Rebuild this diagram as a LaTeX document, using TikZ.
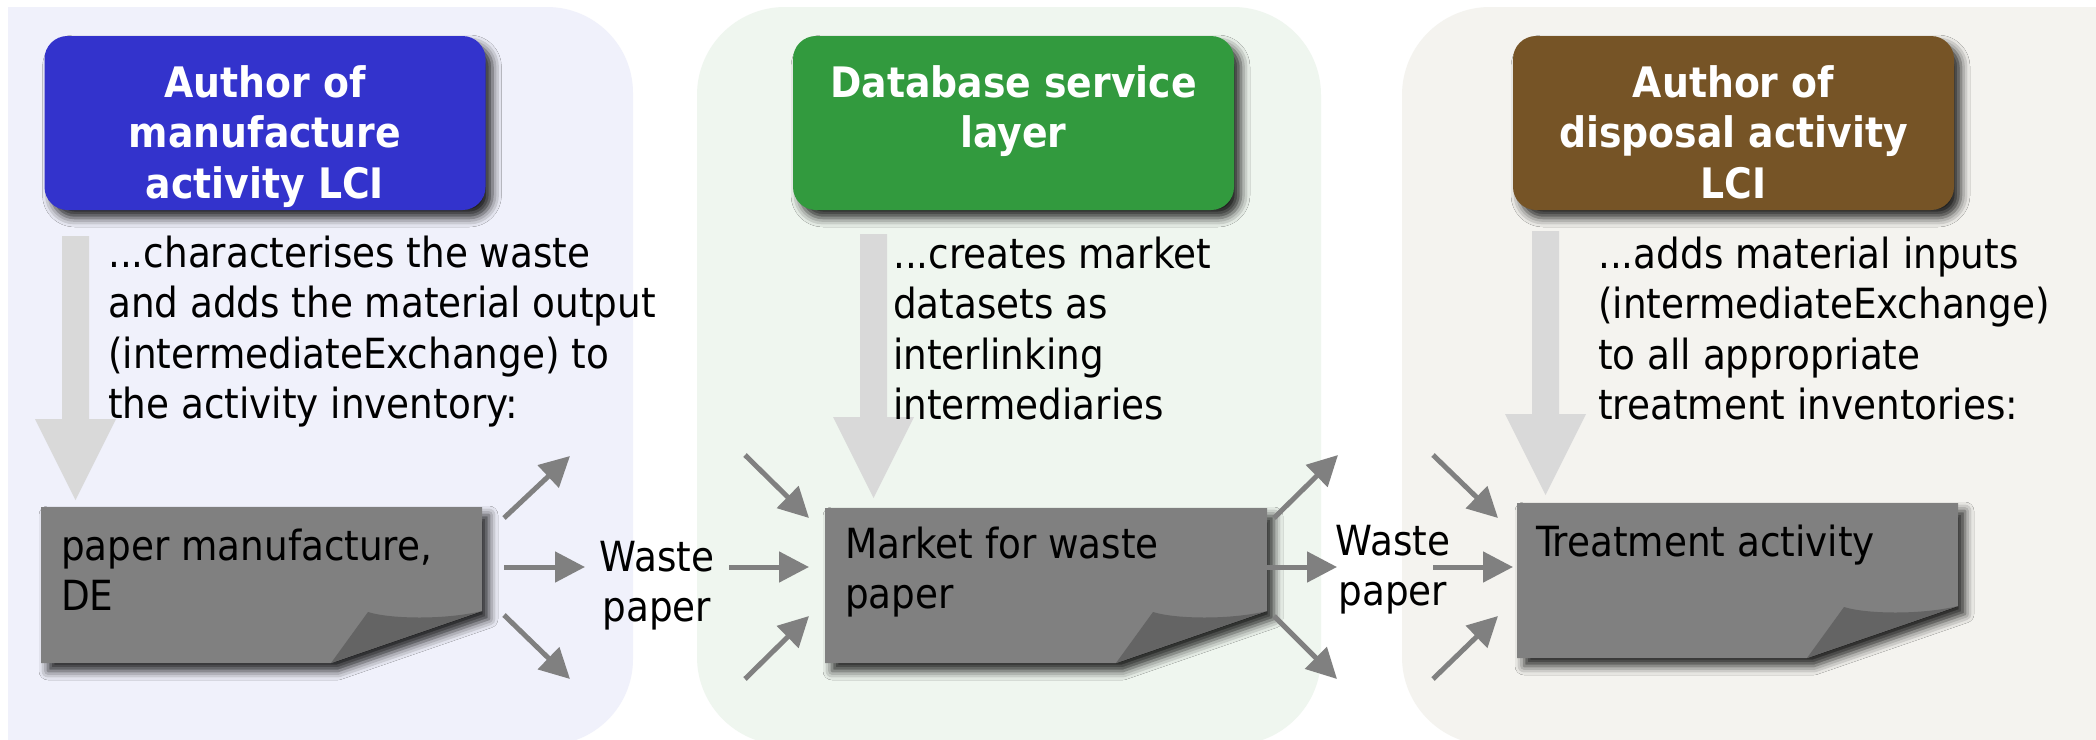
\documentclass[tikz,border=0pt]{standalone}
\usepackage{fontspec}
\setmainfont{DejaVu Sans Condensed}[BoldFont={DejaVu Sans Condensed Bold}]
\usetikzlibrary{arrows.meta,calc,shadows.blur}

\definecolor{bgA}{HTML}{F0F1FB}
\definecolor{bgB}{HTML}{EFF6EF}
\definecolor{bgC}{HTML}{F4F3EF}
\definecolor{hblue}{HTML}{3333CC}
\definecolor{hgreen}{HTML}{329A3E}
\definecolor{hbrown}{HTML}{765426}
\definecolor{docgray}{HTML}{808080}
\definecolor{foldgray}{HTML}{646464}
\definecolor{flowgray}{HTML}{808080}
\definecolor{biggray}{HTML}{D9D9D9}

% stacked lines whose baseline is the first line
\newcommand\lines[2][l]{\begin{tabular}[t]{@{}#1@{}}#2\end{tabular}}

% page with a curled lower right corner, drawn over a placeholder node
\newcommand\docpage[1]{%
  \fill[docgray, softshadow]
    (#1.north west) -- (#1.north east) -- ($(#1.south east)+(0,-52)$)
    -- ($(#1.south east)+(-151,0)$) -- (#1.south west) -- cycle;
  \fill[foldgray]
    ($(#1.south east)+(-151,0)$) -- ($(#1.south east)+(-114,-51)$)
    .. controls ($(#1.south east)+(-92,-44)$) and ($(#1.south east)+(-37,-43)$)
    .. ($(#1.south east)+(0,-52)$) -- cycle;}

% broad light arrow from a shaft start to a tip
\newcommand\bigarrow[2]{%
  \fill[biggray] ($(#1)+(-13.5,0)$) -- ($(#1)+(13.5,0)$) -- ($(#2)+(13.5,-81)$)
    -- ($(#2)+(40.5,-81)$) -- (#2) -- ($(#2)+(-40.5,-81)$)
    -- ($(#2)+(-13.5,-81)$) -- cycle;}

\begin{document}
\begin{tikzpicture}[x=1pt,y=-1pt,
  softshadow/.style={blur shadow={shadow xshift=7pt, shadow yshift=-8pt,
      shadow blur radius=9pt, shadow opacity=85}},
  hdr/.style={rounded corners=23pt, minimum width=441pt, minimum height=174pt,
      inner sep=0pt, outer sep=0pt, softshadow},
  hdrtext/.style={text=white, inner sep=0pt, anchor=base,
      font=\bfseries\fontsize{42}{50.7}\selectfont},
  body/.style={text=black, inner sep=0pt, anchor=base west,
      font=\fontsize{41.5}{50.5}\selectfont},
  label/.style={body, anchor=base},
  docnode/.style={inner sep=0pt, outer sep=0pt, anchor=north west},
  flow/.style={draw=flowgray, line width=5pt,
      -{Triangle[length=30pt,width=30pt]}},
]
\useasboundingbox (0,0) rectangle (2096,739);
\fill[white] (0,0) rectangle (2096,739);

% three role panels
\begin{scope}
  \clip (8,0) rectangle (2096,739);
  \fill[bgA, rounded corners=86pt] (-200,7) rectangle (633,745);
\end{scope}
\begin{scope}
  \clip (0,0) rectangle (2096,739);
  \fill[bgB, rounded corners=88pt] (697,7) rectangle (1321,745);
  \fill[bgC, rounded corners=88pt] (1402,7) rectangle (2300,745);
\end{scope}

% role headers
\node[hdr, fill=hblue]  (h1) at (265,123)    {};
\node[hdr, fill=hgreen] (h2) at (1013.5,123) {};
\node[hdr, fill=hbrown] (h3) at (1733.5,123) {};
\node[hdrtext] (h1t) at (265,97)    {\lines[c]{Author of\\manufacture\\activity LCI}};
\node[hdrtext] (h2t) at (1013.5,97) {\lines[c]{Database service\\layer}};
\node[hdrtext] (h3t) at (1733.5,97) {\lines[c]{Author of\\disposal activity\\LCI}};

% broad arrows from each role down to its dataset
\coordinate (g1s) at (75.5,236);   \coordinate (g1t) at (75.5,500);
\coordinate (g2s) at (873.5,234);  \coordinate (g2t) at (873.5,498);
\coordinate (g3s) at (1545.5,231); \coordinate (g3t) at (1545.5,495);
\bigarrow{g1s}{g1t}
\bigarrow{g2s}{g2t}
\bigarrow{g3s}{g3t}

% descriptions
\node[body] (b1) at (108,267)
  {\lines{...characterises the waste\\and adds the material output\\(intermediateExchange) to\\the activity inventory:}};
\node[body] (b2) at (893,268)
  {\lines{...creates market\\datasets as\\interlinking\\intermediaries}};
\node[body] (b3) at (1598,268)
  {\lines{...adds material inputs\\(intermediateExchange)\\to all appropriate\\treatment inventories:}};

% datasets
\node[docnode, minimum width=441pt, minimum height=156pt] (d1) at (41,507) {};
\node[docnode, minimum width=442pt, minimum height=155pt] (d2) at (825,508) {};
\node[docnode, minimum width=441pt, minimum height=155pt] (d3) at (1517,503) {};
\docpage{d1}
\docpage{d2}
\docpage{d3}
\node[body] (d1t) at (61,560)   {\lines{paper manufacture,\\DE}};
\node[body] (d2t) at (845,558)  {\lines{Market for waste\\paper}};
\node[body] (d3t) at (1536,556) {\lines{Treatment activity}};

% exchange labels
\node[label] (w1) at (657,571)  {\lines[c]{Waste\\paper}};
\node[label] (w2) at (1393,555) {\lines[c]{Waste\\paper}};

% flows out of the manufacture dataset
\coordinate (o1as) at (504,518); \coordinate (o1ae) at (570,456);
\coordinate (o1bs) at (504,567); \coordinate (o1be) at (585,567);
\coordinate (o1cs) at (504,615); \coordinate (o1ce) at (570,679);
% flows into the market
\coordinate (i2as) at (745,455); \coordinate (i2ae) at (809,518);
\coordinate (i2bs) at (729,567); \coordinate (i2be) at (809,567);
\coordinate (i2cs) at (745,679); \coordinate (i2ce) at (809,616);
% flows out of the market
\coordinate (o2as) at (1274,518); \coordinate (o2ae) at (1338,455);
\coordinate (o2bs) at (1267,567); \coordinate (o2be) at (1337,567);
\coordinate (o2cs) at (1274,616); \coordinate (o2ce) at (1337,679);
% flows into the treatment
\coordinate (i3as) at (1433,455); \coordinate (i3ae) at (1498,518);
\coordinate (i3bs) at (1433,567); \coordinate (i3be) at (1513,567);
\coordinate (i3cs) at (1433,679); \coordinate (i3ce) at (1498,616);

\foreach \f in {o1a,o1b,o1c,i2a,i2b,i2c,o2a,o2b,o2c,i3a,i3b,i3c}
  \draw[flow] (\f s) -- (\f e);
\end{tikzpicture}
\end{document}
